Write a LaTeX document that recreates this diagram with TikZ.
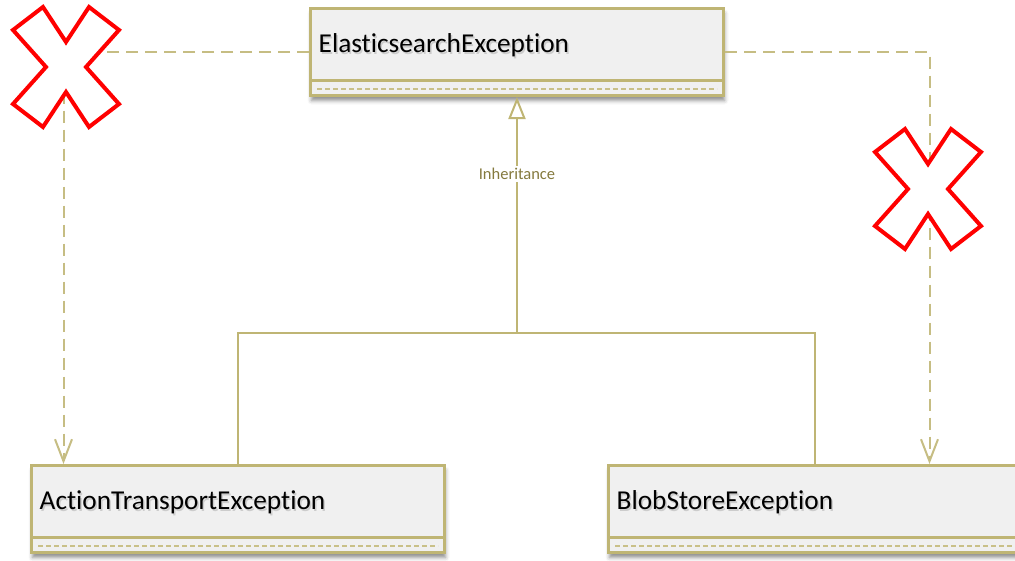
\documentclass[tikz,border=0pt]{standalone}
\usepackage{fontspec}
\setmainfont{Carlito}[Ligatures=NoCommon]
\usetikzlibrary{arrows.meta,shadows.blur}

\definecolor{umlline}{HTML}{BFB574}
\definecolor{umlfill}{HTML}{F0F0F0}
\definecolor{deplink}{HTML}{C6BD83}
\definecolor{opsdash}{HTML}{C9C088}
\definecolor{labelolive}{HTML}{857A3E}

\tikzset{
  classbox/.style={draw=umlline, fill=umlfill, line width=3pt,
    minimum width=413pt, minimum height=87pt, inner sep=0pt, anchor=north west,
    blur shadow={shadow xshift=1pt, shadow yshift=-5pt,
                 shadow blur radius=4pt, shadow opacity=45}},
  classname/.style={anchor=base west, inner sep=0pt,
    font=\fontsize{27.3}{30}\selectfont},
  nameshadow/.style={classname, text=black, opacity=0.15},
  compartment/.style={draw=umlline, line width=3pt},
  opsline/.style={draw=opsdash, line width=2pt, dash pattern=on 5pt off 3pt},
  inherit/.style={draw=umlline, line width=2pt},
  deplink/.style={draw=deplink, line width=2pt, dash pattern=on 12pt off 7pt,
    -{Straight Barb[length=22pt, width=17pt]}},
  inhlabel/.style={fill=white, text=labelolive, inner sep=2pt,
    font=\fontsize{16.5}{18}\selectfont},
  pics/nocross/.style={code={
    \draw[red, line width=4pt, fill=white, line join=miter]
      (-53,-37) -- (-23,-60) -- (0,-25) -- (23,-60) -- (53,-37) -- (20,0)
      -- (53,37) -- (23,60) -- (0,25) -- (-23,60) -- (-53,37) -- (-20,0) -- cycle;
  }}
}

\begin{document}
\begin{tikzpicture}[x=1pt, y=-1pt]
  \useasboundingbox (0,0) rectangle (1015,560);

  % class boxes
  \node[classbox] (es)  at (309,7)   {};
  \node[classbox] (ate) at (30,464)  {};
  \node[classbox] (bse) at (607,464) {};

  % name texts with their soft shadow
  \foreach \cls/\txt in {es/ElasticsearchException, ate/ActionTransportException, bse/BlobStoreException}{
    \node[nameshadow] (\cls shadow) at ([xshift=11pt, yshift=-47.5pt]\cls.north west) {\txt};
    \node[classname]  (\cls name)   at ([xshift=9.5pt, yshift=-45.5pt]\cls.north west) {\txt};
    % operations compartment
    \draw[compartment] ([yshift=16.5pt]\cls.south west) -- ([yshift=16.5pt]\cls.south east);
    \draw[opsline] ([xshift=8pt, yshift=8.5pt]\cls.south west) -- ([xshift=-8pt, yshift=8.5pt]\cls.south east);
  }

  % generalisation tree
  \coordinate (join) at (es.south |- 0,333);
  \draw[inherit] (ate.north) |- (join);
  \draw[inherit] (bse.north) |- (join);
  \draw[inherit, -{Triangle[open, length=22pt, width=17pt, fill=white]}]
    (join) -- (es.south) node[inhlabel, pos=0.674] (inh) {Inheritance};

  % crossed-out dependencies
  \draw[deplink] (es.west) -| ([xshift=33.5pt]ate.north west);
  \draw[deplink] (es.east) -| ([xshift=322.5pt]bse.north west);

  \pic (xleft)  at (66,67)  {nocross};
  \pic (xright) at (928,189) {nocross};
\end{tikzpicture}
\end{document}
